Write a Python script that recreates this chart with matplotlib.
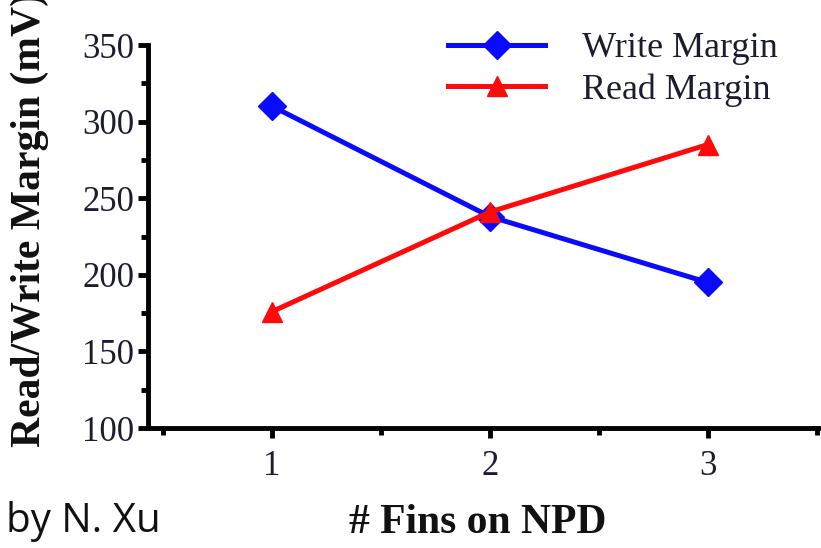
import matplotlib
matplotlib.use("Agg")
import matplotlib.pyplot as plt
from matplotlib.ticker import MultipleLocator

fins = [1, 2, 3]
write_margin = [310, 238, 195]
read_margin = [176, 241, 285]

serif = ["Liberation Serif", "DejaVu Serif"]
tick_color = "#1c1c30"

fig = plt.figure(figsize=(8.21, 5.48), dpi=100)
ax = fig.add_axes([148 / 821, 1 - 428 / 548, 1 - 148 / 821, (428 - 45) / 548])

ax.plot(fins, write_margin, color="#0a0aff", lw=3.6, marker="D", markersize=14,
        label="Write Margin", zorder=3)
ax.plot(fins, read_margin, color="#ff0a0a", lw=3.6, marker="^", markersize=15,
        label="Read Margin", zorder=3)

ax.set_xlim(0.43, 3.52)
ax.set_ylim(100, 350)
ax.set_xticks(fins)
ax.set_yticks([100, 150, 200, 250, 300, 350])
ax.xaxis.set_minor_locator(MultipleLocator(0.5))
ax.yaxis.set_minor_locator(MultipleLocator(25))

for side in ("top", "right"):
    ax.spines[side].set_visible(False)
for side in ("left", "bottom"):
    ax.spines[side].set_linewidth(3.5)

ax.tick_params(which="major", direction="out", length=7, width=3.5,
               labelsize=25, labelcolor=tick_color, pad=3)
ax.tick_params(which="minor", direction="out", length=5, width=3.5)
for lab in ax.get_xticklabels() + ax.get_yticklabels():
    lab.set_family(serif)
ax.tick_params(axis="x", pad=9)

leg = ax.legend(loc="upper right", bbox_to_anchor=(0.935, 1.034), frameon=False,
                prop={"family": serif, "size": 26}, handlelength=2.7,
                handletextpad=1.0, labelspacing=0.23, borderaxespad=0,
                borderpad=0)
for t in leg.get_texts():
    t.set_color(tick_color)

fig.text(30 / 821, 1 - 447 / 548, "Read/Write Margin (mV)", rotation=90,
         ha="center", va="bottom", family=serif, weight="bold", size=30,
         color="#111111")
fig.text(478 / 821, 1 - 523 / 548, "# Fins on NPD", ha="center", va="center",
         family=serif, weight="bold", size=30, color="#111111")
fig.text(6 / 821, 1 - 522 / 548, "by N. Xu", ha="left", va="center",
         family=["Open Sans", "DejaVu Sans"], size=29, color="#111111")

fig.savefig("out.png", dpi=100)
